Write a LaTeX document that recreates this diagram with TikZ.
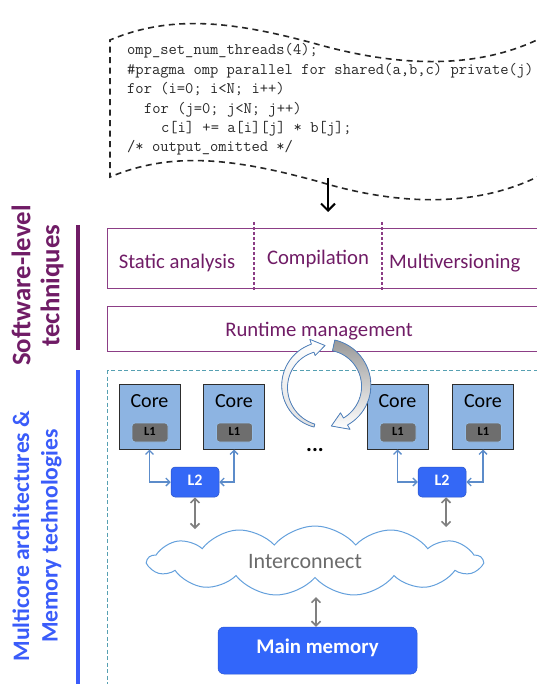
\documentclass[tikz,border=0pt]{standalone}
\usepackage{fontspec}
\setsansfont{Carlito}
\usetikzlibrary{shapes.symbols,arrows.meta}
\definecolor{swpurple}{RGB}{112,28,102}
\definecolor{swline}{RGB}{140,62,134}
\definecolor{mcblue}{RGB}{58,92,250}
\definecolor{teal}{RGB}{86,160,178}
\definecolor{corefill}{RGB}{141,180,226}
\definecolor{coreedge}{RGB}{45,45,45}
\definecolor{lonefill}{RGB}{110,110,110}
\definecolor{loneedge}{RGB}{150,190,232}
\definecolor{ltwofill}{RGB}{52,104,246}
\definecolor{memfill}{RGB}{50,102,250}
\definecolor{connblue}{RGB}{92,140,202}
\definecolor{arrgray}{RGB}{128,128,128}
\definecolor{cloudedge}{RGB}{100,160,220}
\definecolor{cycedge}{RGB}{79,129,189}
\definecolor{codegray}{RGB}{40,40,40}
\begin{document}
\begin{tikzpicture}[x=1pt,y=-1pt,
  codeline/.style={anchor=base west, inner sep=0, text=codegray, font=\ttfamily\fontsize{16.1}{19}\selectfont},
  swtext/.style={anchor=base, inner sep=0, text=swpurple, font=\sffamily\fontsize{20.7}{24}\selectfont},
  swbox/.style={draw=swline, line width=1.2pt, anchor=north west, inner sep=0},
  sidelabel/.style={rotate=90, align=center, inner sep=0, font=\sffamily\bfseries\fontsize{23.6}{28.5}\selectfont},
  corebox/.style={draw=coreedge, fill=corefill, line width=1pt, minimum width=61, minimum height=65, inner sep=0},
  coretxt/.style={anchor=base, inner sep=0, font=\sffamily\fontsize{20}{24}\selectfont},
  lonebox/.style={draw=loneedge, fill=lonefill, line width=0.8pt, rounded corners=3pt, minimum width=36, minimum height=19, inner sep=0, font=\sffamily\bfseries\fontsize{12.5}{14}\selectfont, text height=0.63em, text depth=0pt},
  ltwobox/.style={fill=ltwofill, draw=ltwofill!80!black, line width=0.5pt, rounded corners=4pt, minimum width=48, minimum height=30, inner sep=0, text=white, font=\sffamily\bfseries\fontsize{16}{18}\selectfont, text height=0.63em, text depth=0pt},
  cconn/.style={draw=connblue, line width=1.3pt, {Straight Barb[length=4pt,width=8pt]}-{Straight Barb[length=4pt,width=8pt]}},
  garrow/.style={draw=arrgray, line width=1.6pt, {Straight Barb[length=4.5pt,width=9pt]}-{Straight Barb[length=4.5pt,width=9pt]}},
  cycarrow/.style={draw=cycedge, line width=0.8pt, line join=round},
]
\useasboundingbox (0,0) rectangle (537,684);
\clip (0,0) rectangle (537,684);

% ---- code sheet ----
\draw[line width=1.6pt, dash pattern=on 6pt off 4.5pt, black!85]
  (545,36) .. controls (480,70) and (400,67) .. (320,45)
           .. controls (230,20) and (170,15) .. (110,40)
  -- (110,177)
           .. controls (170,152) and (230,157) .. (320,182)
           .. controls (400,206) and (480,208) .. (545,173);
\node[codeline] (code1) at (127,55) {omp\_set\_num\_threads(4);};
\node[codeline] (code2) at (127,74.5) {\#pragma omp parallel for shared(a,b,c) private(j)};
\node[codeline] (code3) at (127,94) {for (i=0; i<N; i++)};
\node[codeline] (code4) at (143.9,113.5) {for (j=0; j<N; j++)};
\node[codeline] (code5) at (160.8,133) {c[i] += a[i][j] * b[j];};
\node[codeline] (code6) at (127,152) {/* output\_omitted */};
\coordinate (codeOut) at (328,178);
\coordinate (codeTip) at (328,212);
\draw[line width=2pt, black, -{Straight Barb[length=7pt,width=14pt,line width=2pt]}] (codeOut) -- (codeTip);

% ---- side labels ----
\node[sidelabel, text=swpurple, font=\sffamily\bfseries\fontsize{26.8}{29}\selectfont] (swlab) at (37.5,285.5) {Software-level\\techniques};
\node[sidelabel, text=mcblue] (mclab) at (37,536) {Multicore architectures \&\\Memory technologies};
\draw[swpurple, line width=3.5pt] (78,225) -- (78,350);
\draw[mcblue, line width=3.5pt] (78,370) -- (78,690);

% ---- software-level boxes ----
\node[swbox, minimum width=460, minimum height=60] (swtop) at (107,228) {};
\draw[swline, line width=1.2pt, dash pattern=on 3pt off 2pt] (254,222) -- (254,291);
\draw[swline, line width=1.2pt, dash pattern=on 3pt off 2pt] (382,222) -- (382,291);
\node[swtext] (static) at (177,268) {Static analysis};
\node[swtext] (compil) at (318,264) {Compilation};
\node[swtext, anchor=base west] (multiv) at (389,268) {Multiversioning};
\node[swbox, minimum width=460, minimum height=45] (runtime) at (107,306) {};
\node[swtext] (runtxt) at (319,336) {Runtime management};

% ---- hardware area ----
\draw[teal, line width=1pt, dash pattern=on 4pt off 2.5pt] (107,370) rectangle (600,700);

\node[corebox] (core1) at (149.5,416.5) {};
\node[corebox] (core2) at (234,416.5) {};
\node[corebox] (core3) at (397.5,416.5) {};
\node[corebox] (core4) at (483,416.5) {};
\node[coretxt] (core1t) at (149.5,407) {Core};
\node[coretxt] (core2t) at (234,407) {Core};
\node[coretxt] (core3t) at (397.5,407) {Core};
\node[coretxt] (core4t) at (483,407) {Core};
\node[lonebox] (l1a) at (150,432.5) {L1};
\node[lonebox] (l1b) at (234.5,432.5) {L1};
\node[lonebox] (l1c) at (398,432.5) {L1};
\node[lonebox] (l1d) at (483.5,432.5) {L1};
\node[coretxt, font=\sffamily\bfseries\fontsize{22}{24}\selectfont] (dots) at (315,451) {...};

\node[ltwobox] (l2a) at (195,482) {L2};
\node[ltwobox] (l2b) at (442,482) {L2};
\draw[cconn] (core1.south) |- (l2a.west);
\draw[cconn] (core2.south) |- (l2a.east);
\draw[cconn] (core3.south) |- (l2b.west);
\draw[cconn] (core4.south) |- (l2b.east);

\node[cloud, cloud puffs=13, cloud puff arc=100, aspect=4.6, draw=cloudedge, fill=white, line width=1pt, minimum width=334, minimum height=70, inner sep=0] (ic) at (315,561) {};
\node[coretxt, text=black!58, font=\sffamily\fontsize{22}{24}\selectfont] (ictxt) at (305,568) {Interconnect};
\coordinate (icA) at (195,529);
\coordinate (icB) at (446,527);
\coordinate (icC) at (316,597);
\draw[garrow] (l2a.south) -- (icA);
\draw[garrow] (l2b.south -| icB) -- (icB);

\node[fill=memfill, draw=memfill!85!black, line width=0.5pt, rounded corners=6pt, minimum width=199, minimum height=47, inner sep=0, text=white, font=\sffamily\bfseries\fontsize{20.8}{24}\selectfont, text height=0.64em, text depth=0pt] (mem) at (317.5,650.5) {Main memory};
\draw[garrow] (icC) -- (mem.north -| icC);

% ---- cyclic arrows ----
\filldraw[cycarrow, top color=white, bottom color=black!12, shift={(325,386)}]
  plot[domain=105:252, samples=30, variable=\t] (\t:{42.5+1.5*(\t-105)/147})
  -- (252:49) -- (270:40.5) -- (252:32)
  -- plot[domain=252:105, samples=30, variable=\t] (\t:{39.5-4*(\t-105)/147}) -- cycle;
\filldraw[cycarrow, top color=black!40, bottom color=white, shift={(325,386)}]
  plot[domain=282:420, samples=30, variable=\t] (\t:{47-2*(\t-282)/138})
  -- (420:50) -- (441:40.5) -- (420:31)
  -- plot[domain=420:282, samples=30, variable=\t] (\t:{36+1*(\t-282)/138}) -- cycle;
\end{tikzpicture}
\end{document}
